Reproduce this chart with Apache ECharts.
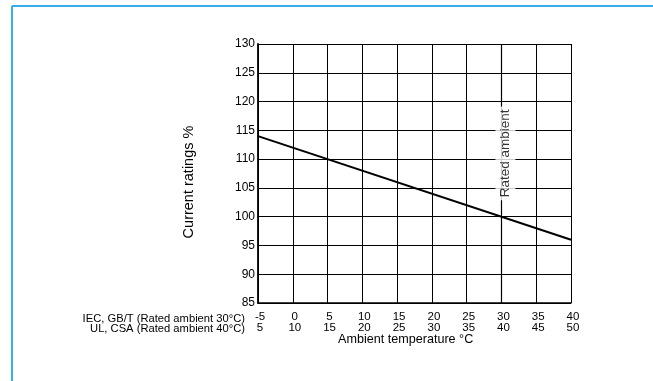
<!DOCTYPE html>
<html><head><meta charset="utf-8">
<script src="https://cdn.jsdelivr.net/npm/echarts@6/dist/echarts.min.js"></script>
<style>html,body{margin:0;padding:0;background:#fff}#c{width:653px;height:381px}</style>
</head><body><div id="c"></div>
<script>
// Data
const iecTicks = [-5, 0, 5, 10, 15, 20, 25, 30, 35, 40];
const ulTicks = [5, 10, 15, 20, 25, 30, 35, 40, 45, 50];
const curveTemps = [-5, 40];
const curveRatings = [114, 96];
const ratedAmbientTemp = 30;
const ratedLabelRating = 111;
const rowLabels = ['IEC, GB/T (Rated ambient 30°C)', 'UL, CSA (Rated ambient 40°C)'];
const xTitle = 'Ambient temperature °C';
const yTitle = 'Current ratings %';
const ratedText = 'Rated ambient';

const FONT = '"Liberation Sans", Arial, Helvetica, sans-serif';
const chart = echarts.init(document.getElementById('c'), null, {renderer: 'canvas'});
const option = {
  animation: false,
  backgroundColor: '#fff',
  grid: {left: 258, right: 82, top: 44, bottom: 78, containLabel: false},
  xAxis: {
    type: 'value', min: iecTicks[0], max: iecTicks[iecTicks.length - 1], interval: 5,
    axisLine: {show: true, onZero: false, lineStyle: {color: '#000', width: 1.5}},
    axisTick: {show: false},
    splitLine: {show: true, lineStyle: {color: '#000', width: 1}},
    axisLabel: {
      color: '#000', fontSize: 11.5, fontFamily: FONT, lineHeight: 10.5, margin: 9,
      padding: [0, 0, 0, 4],
      formatter: function (v) {
        const i = iecTicks.indexOf(v);
        return i < 0 ? '' : iecTicks[i] + '\n' + ulTicks[i];
      }
    }
  },
  yAxis: {
    type: 'value', min: 85, max: 130, interval: 5,
    axisLine: {show: true, onZero: false, lineStyle: {color: '#000', width: 1.8}},
    axisTick: {show: false},
    splitLine: {show: true, lineStyle: {color: '#000', width: 1}},
    axisLabel: {color: '#000', fontSize: 12, fontFamily: FONT, margin: 3}
  },
  graphic: [
    {type: 'line', shape: {x1: 12, y1: 6, x2: 653, y2: 6}, style: {stroke: '#3aace8', lineWidth: 2}},
    {type: 'line', shape: {x1: 12, y1: 6, x2: 12, y2: 381}, style: {stroke: '#3aace8', lineWidth: 2}},
    {type: 'text', x: 245, y: 318.5, style: {text: rowLabels[0], fill: '#000', font: '11.2px ' + FONT, textAlign: 'right', textVerticalAlign: 'middle'}},
    {type: 'text', x: 245, y: 329, style: {text: rowLabels[1], fill: '#000', font: '11.2px ' + FONT, textAlign: 'right', textVerticalAlign: 'middle'}},
    {type: 'text', x: 338, y: 339.5, style: {text: xTitle, fill: '#000', font: '12.6px ' + FONT, textAlign: 'left', textVerticalAlign: 'middle'}},
    {type: 'text', x: 189, y: 182, rotation: Math.PI / 2, style: {text: yTitle, fill: '#000', font: '14.5px ' + FONT, textAlign: 'center', textVerticalAlign: 'middle'}}
  ],
  series: [
    {
      type: 'line', data: curveTemps.map((t, i) => [t, curveRatings[i]]),
      symbol: 'none', lineStyle: {color: '#000', width: 2}, z: 3,
      markLine: {
        silent: true, symbol: 'none', label: {show: false},
        lineStyle: {color: '#000', width: 1.2, type: 'solid'},
        data: [{xAxis: ratedAmbientTemp}]
      }
    },
    {
      type: 'scatter', data: [[ratedAmbientTemp, ratedLabelRating]], symbolSize: 0, z: 10,
      label: {
        show: true, position: 'inside', rotate: 90, formatter: ratedText, offset: [0, 4],
        color: '#000', fontSize: 13.5, fontFamily: FONT, lineHeight: 14,
        backgroundColor: '#fff', padding: [3, 3]
      }
    }
  ]
};
chart.setOption(option);
</script>
</body></html>
